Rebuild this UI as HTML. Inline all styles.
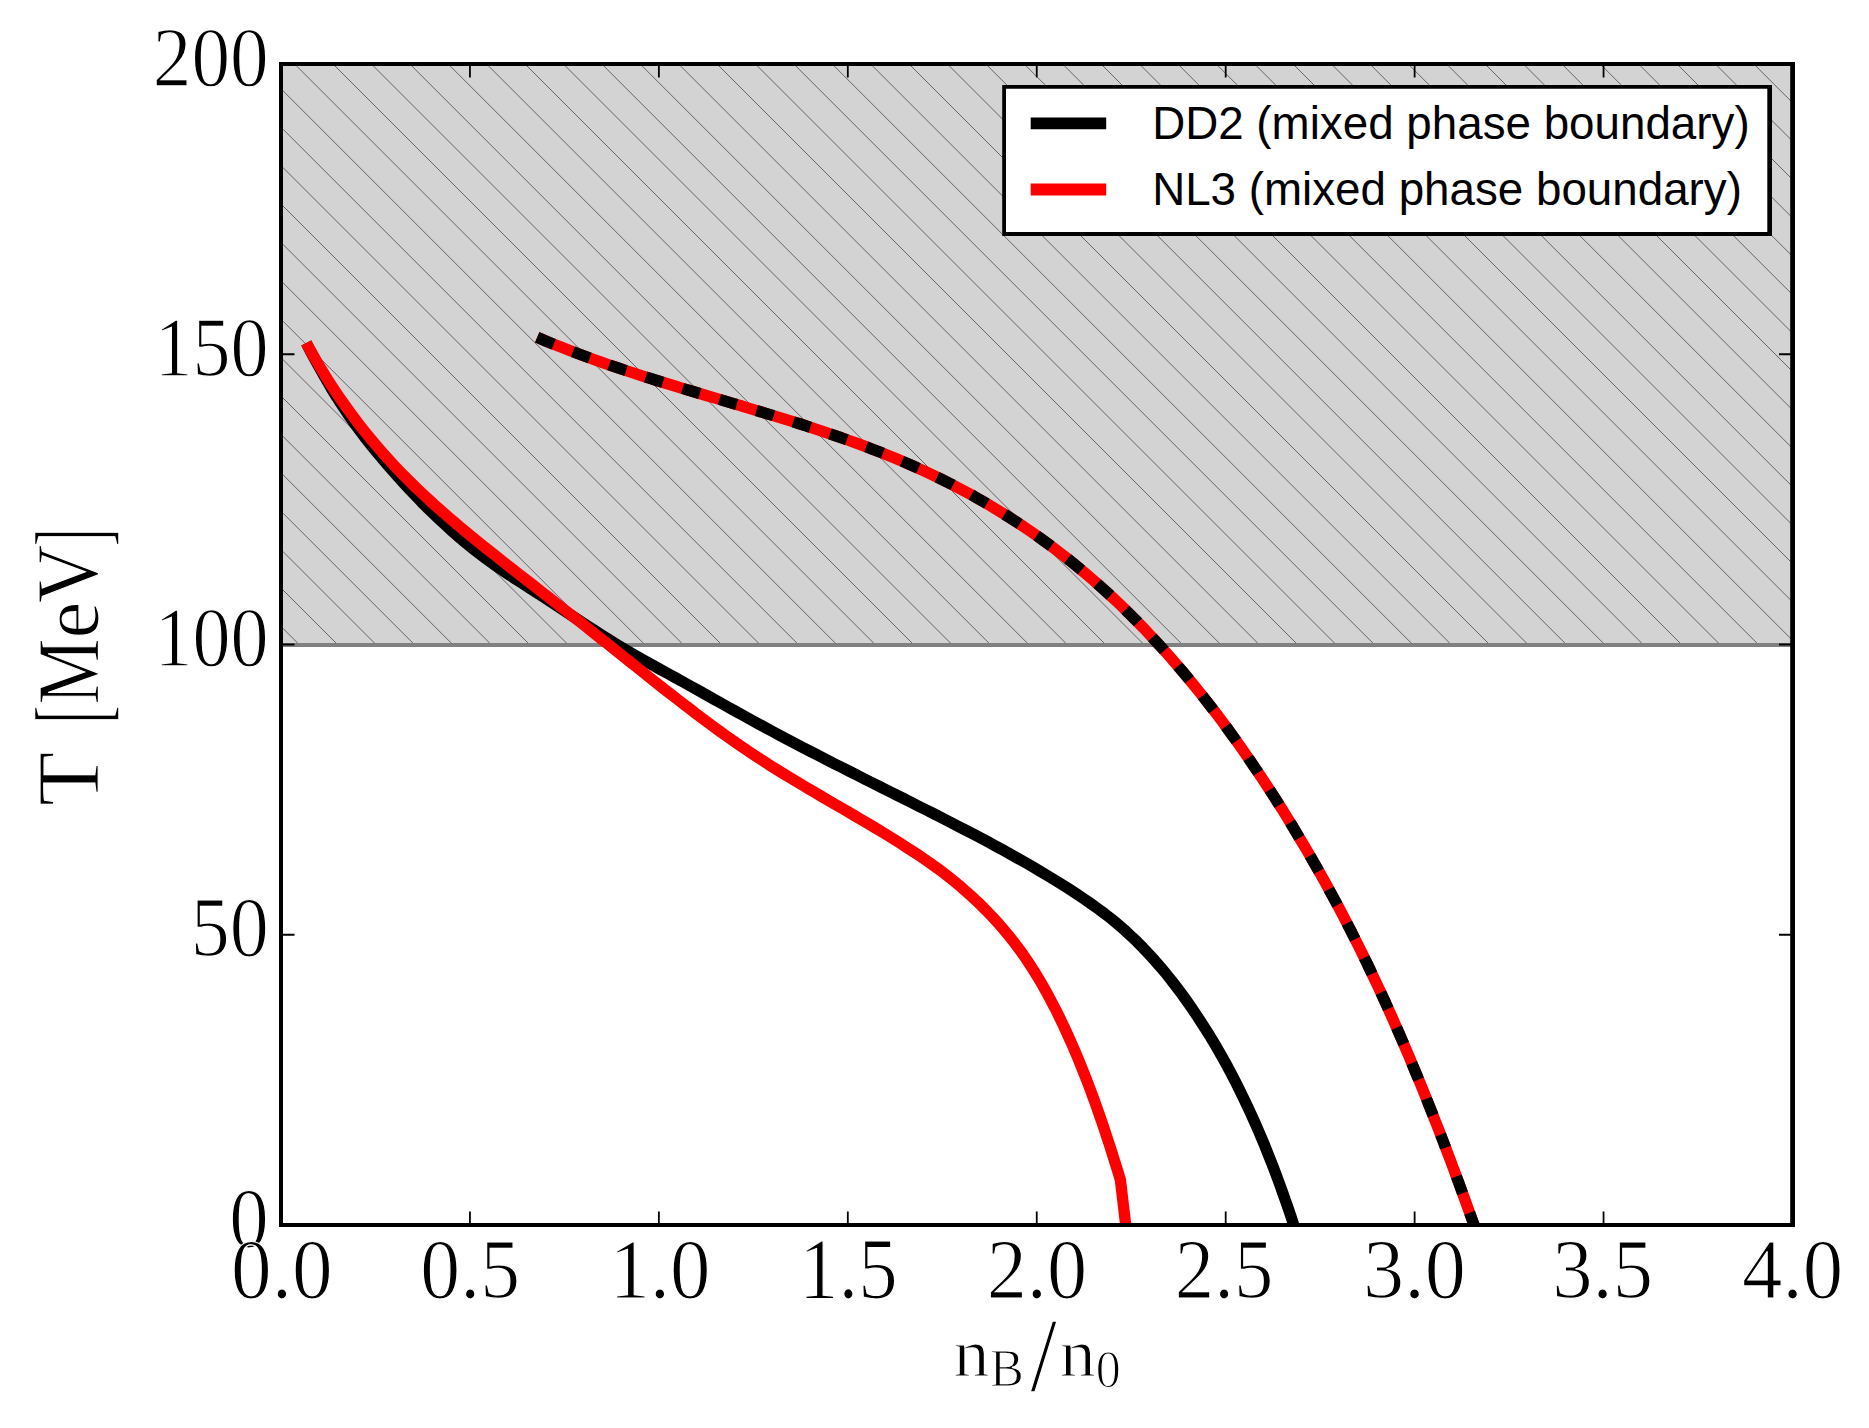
<!DOCTYPE html>
<html lang="en"><head><meta charset="utf-8"><title>Phase diagram</title>
<style>html,body{margin:0;padding:0;background:#fff}svg{display:block}.ser{font-family:"Liberation Serif",serif;fill:#000;stroke:#fff;stroke-width:1.2px;vector-effect:non-scaling-stroke}.san{font-family:"Liberation Sans",sans-serif;fill:#000}</style></head><body>
<svg width="1869" height="1428" viewBox="0 0 1869 1428">
<rect width="1869" height="1428" fill="#fff"/>
<defs><clipPath id="ax"><rect x="281.0" y="64.0" width="1511.5" height="1161.0"/></clipPath><clipPath id="reg"><rect x="281.0" y="64.0" width="1511.5" height="581.0"/></clipPath></defs>
<rect x="281.0" y="64.0" width="1511.5" height="581.0" fill="#d3d3d3"/>
<path clip-path="url(#reg)" d="M-363.20 59.00L227.80 650.00M-324.80 59.00L266.20 650.00M-286.40 59.00L304.60 650.00M-248.00 59.00L343.00 650.00M-209.60 59.00L381.40 650.00M-171.20 59.00L419.80 650.00M-132.80 59.00L458.20 650.00M-94.40 59.00L496.60 650.00M-56.00 59.00L535.00 650.00M-17.60 59.00L573.40 650.00M20.80 59.00L611.80 650.00M59.20 59.00L650.20 650.00M97.60 59.00L688.60 650.00M136.00 59.00L727.00 650.00M174.40 59.00L765.40 650.00M212.80 59.00L803.80 650.00M251.20 59.00L842.20 650.00M289.60 59.00L880.60 650.00M328.00 59.00L919.00 650.00M366.40 59.00L957.40 650.00M404.80 59.00L995.80 650.00M443.20 59.00L1034.20 650.00M481.60 59.00L1072.60 650.00M520.00 59.00L1111.00 650.00M558.40 59.00L1149.40 650.00M596.80 59.00L1187.80 650.00M635.20 59.00L1226.20 650.00M673.60 59.00L1264.60 650.00M712.00 59.00L1303.00 650.00M750.40 59.00L1341.40 650.00M788.80 59.00L1379.80 650.00M827.20 59.00L1418.20 650.00M865.60 59.00L1456.60 650.00M904.00 59.00L1495.00 650.00M942.40 59.00L1533.40 650.00M980.80 59.00L1571.80 650.00M1019.20 59.00L1610.20 650.00M1057.60 59.00L1648.60 650.00M1096.00 59.00L1687.00 650.00M1134.40 59.00L1725.40 650.00M1172.80 59.00L1763.80 650.00M1211.20 59.00L1802.20 650.00M1249.60 59.00L1840.60 650.00M1288.00 59.00L1879.00 650.00M1326.40 59.00L1917.40 650.00M1364.80 59.00L1955.80 650.00M1403.20 59.00L1994.20 650.00M1441.60 59.00L2032.60 650.00M1480.00 59.00L2071.00 650.00M1518.40 59.00L2109.40 650.00M1556.80 59.00L2147.80 650.00M1595.20 59.00L2186.20 650.00M1633.60 59.00L2224.60 650.00M1672.00 59.00L2263.00 650.00M1710.40 59.00L2301.40 650.00M1748.80 59.00L2339.80 650.00M1787.20 59.00L2378.20 650.00M1825.60 59.00L2416.60 650.00M1864.00 59.00L2455.00 650.00" stroke="#000" stroke-width="0.72" stroke-opacity="0.74" fill="none"/>
<line x1="281.0" x2="1792.5" y1="645.0" y2="645.0" stroke="#808080" stroke-width="3.8"/>
<g clip-path="url(#ax)" fill="none" stroke-linejoin="round">
<path d="M306.3 343.0 L310.2 350.7 L314.3 358.3 L318.4 365.8 L322.6 373.3 L326.9 380.8 L331.2 388.2 L335.7 395.5 L340.3 402.7 L345.1 409.9 L349.9 417.0 L354.9 424.0 L360.0 430.9 L365.2 437.7 L370.5 444.4 L375.9 451.1 L381.4 457.7 L387.0 464.3 L392.7 470.8 L398.4 477.2 L404.2 483.6 L410.0 489.9 L416.0 496.2 L421.9 502.4 L428.0 508.5 L434.2 514.5 L440.4 520.4 L446.7 526.2 L453.1 532.0 L459.6 537.6 L466.1 543.1 L472.8 548.5 L479.5 553.8 L486.4 559.0 L493.3 564.0 L500.4 568.9 L507.5 573.7 L514.7 578.4 L521.9 583.1 L529.1 587.8 L536.4 592.4 L543.6 597.1 L550.8 601.8 L558.0 606.5 L565.2 611.2 L572.4 616.0 L579.6 620.7 L586.8 625.4 L594.0 630.1 L601.2 634.7 L608.5 639.3 L615.7 643.8 L623.1 648.3 L630.5 652.6 L637.9 656.9 L645.4 661.2 L652.9 665.3 L660.4 669.5 L668.0 673.6 L675.5 677.8 L683.0 681.9 L690.6 686.1 L698.1 690.3 L705.6 694.5 L713.1 698.7 L720.6 702.9 L728.1 707.1 L735.6 711.3 L743.1 715.4 L750.7 719.6 L758.2 723.7 L765.7 727.8 L773.3 731.9 L780.9 736.0 L788.5 740.0 L796.1 744.0 L803.7 748.0 L811.4 751.9 L819.0 755.8 L826.6 759.8 L834.3 763.7 L842.0 767.5 L849.6 771.4 L857.3 775.3 L865.0 779.2 L872.6 783.0 L880.3 786.9 L888.0 790.7 L895.7 794.6 L903.4 798.4 L911.0 802.3 L918.7 806.2 L926.4 810.0 L934.1 813.9 L941.7 817.8 L949.4 821.7 L957.0 825.7 L964.6 829.6 L972.3 833.6 L979.9 837.6 L987.5 841.6 L995.0 845.7 L1002.6 849.8 L1010.1 854.0 L1017.6 858.2 L1025.1 862.4 L1032.5 866.7 L1039.9 871.1 L1047.3 875.5 L1054.7 880.0 L1062.0 884.5 L1069.2 889.1 L1076.4 893.8 L1083.6 898.6 L1090.7 903.5 L1097.7 908.5 L1104.6 913.6 L1111.4 918.9 L1118.0 924.4 L1124.5 930.0 L1130.8 935.8 L1137.0 941.7 L1143.0 947.8 L1148.9 954.1 L1154.7 960.4 L1160.4 966.9 L1165.9 973.5 L1171.3 980.2 L1176.5 987.0 L1181.7 993.9 L1186.7 1000.9 L1191.7 1008.0 L1196.5 1015.1 L1201.2 1022.3 L1205.8 1029.5 L1210.4 1036.8 L1214.8 1044.2 L1219.1 1051.6 L1223.3 1059.1 L1227.5 1066.6 L1231.5 1074.2 L1235.5 1081.8 L1239.3 1089.5 L1243.1 1097.2 L1246.8 1105.0 L1250.5 1112.8 L1254.0 1120.6 L1257.5 1128.5 L1260.9 1136.4 L1264.2 1144.3 L1267.4 1152.3 L1270.6 1160.3 L1273.7 1168.3 L1276.7 1176.3 L1279.7 1184.4 L1282.6 1192.5 L1285.5 1200.6 L1288.3 1208.7 L1291.1 1216.9 L1293.7 1225.0" stroke="#000" stroke-width="11.3"/>
<path d="M306.3 342.9 L309.9 349.6 L313.6 356.1 L317.4 362.7 L321.3 369.2 L325.2 375.6 L329.2 382.0 L333.3 388.3 L337.5 394.6 L341.8 400.8 L346.2 406.9 L350.6 413.0 L355.1 419.1 L359.7 425.1 L364.3 431.0 L369.1 436.8 L373.9 442.6 L378.8 448.4 L383.7 454.0 L388.8 459.6 L393.9 465.2 L399.0 470.6 L404.3 476.0 L409.6 481.3 L415.0 486.6 L420.4 491.8 L425.9 496.9 L431.4 502.0 L437.0 507.1 L442.7 512.0 L448.3 517.0 L454.1 521.9 L459.8 526.7 L465.6 531.6 L471.4 536.3 L477.3 541.1 L483.1 545.8 L489.0 550.5 L494.9 555.2 L500.8 559.9 L506.8 564.6 L512.7 569.2 L518.6 573.9 L524.5 578.5 L530.5 583.1 L536.4 587.7 L542.3 592.4 L548.3 597.0 L554.2 601.6 L560.1 606.3 L566.0 610.9 L571.9 615.6 L577.9 620.2 L583.8 624.9 L589.6 629.6 L595.5 634.3 L601.4 639.0 L607.3 643.7 L613.2 648.4 L619.1 653.1 L625.0 657.8 L630.8 662.5 L636.7 667.2 L642.6 671.9 L648.5 676.6 L654.4 681.3 L660.3 686.0 L666.3 690.7 L672.2 695.3 L678.1 699.9 L684.1 704.5 L690.1 709.1 L696.1 713.7 L702.1 718.2 L708.2 722.7 L714.2 727.2 L720.3 731.6 L726.4 736.0 L732.6 740.3 L738.7 744.6 L745.0 748.9 L751.2 753.1 L757.5 757.2 L763.8 761.3 L770.1 765.4 L776.5 769.4 L782.9 773.4 L789.3 777.3 L795.8 781.2 L802.2 785.0 L808.7 788.9 L815.2 792.7 L821.7 796.5 L828.2 800.3 L834.7 804.1 L841.3 807.9 L847.8 811.7 L854.3 815.5 L860.8 819.3 L867.3 823.2 L873.8 827.0 L880.3 830.9 L886.7 834.8 L893.1 838.8 L899.5 842.8 L905.9 846.9 L912.2 851.0 L918.5 855.1 L924.8 859.4 L930.9 863.7 L937.1 868.1 L943.1 872.6 L949.1 877.2 L954.9 881.9 L960.7 886.7 L966.4 891.7 L972.0 896.7 L977.5 901.8 L982.9 907.1 L988.1 912.4 L993.3 917.9 L998.4 923.4 L1003.3 929.1 L1008.1 934.8 L1012.8 940.7 L1017.3 946.7 L1021.8 952.7 L1026.1 958.9 L1030.2 965.1 L1034.3 971.5 L1038.2 977.9 L1042.1 984.4 L1045.8 991.0 L1049.4 997.6 L1052.9 1004.3 L1056.4 1011.0 L1059.7 1017.8 L1063.0 1024.6 L1066.2 1031.5 L1069.3 1038.4 L1072.4 1045.3 L1075.4 1052.2 L1078.3 1059.2 L1081.1 1066.2 L1083.9 1073.2 L1086.7 1080.2 L1089.4 1087.2 L1092.0 1094.3 L1094.6 1101.3 L1097.1 1108.4 L1099.6 1115.5 L1102.1 1122.6 L1104.5 1129.8 L1106.8 1136.9 L1109.2 1144.0 L1111.5 1151.2 L1113.7 1158.4 L1116.0 1165.5 L1118.2 1172.7 L1120.4 1179.9 L1125.7 1225.0" stroke="#f00" stroke-width="11.3"/>
<path d="M537.2 337.3 L545.1 340.7 L553.0 343.9 L561.0 347.1 L569.0 350.3 L577.0 353.3 L585.0 356.3 L593.1 359.3 L601.2 362.1 L609.3 365.0 L617.4 367.7 L625.6 370.5 L633.8 373.1 L642.0 375.8 L650.2 378.4 L658.4 381.0 L666.6 383.5 L674.9 386.0 L683.1 388.6 L691.4 391.0 L699.6 393.5 L707.9 396.0 L716.2 398.4 L724.4 400.9 L732.7 403.4 L741.0 405.8 L749.3 408.3 L757.5 410.8 L765.8 413.3 L774.0 415.8 L782.3 418.4 L790.5 420.9 L798.7 423.5 L806.9 426.2 L815.1 428.8 L823.3 431.6 L831.4 434.3 L839.5 437.1 L847.6 440.0 L855.7 442.9 L863.8 445.9 L871.8 449.0 L879.8 452.1 L887.8 455.3 L895.8 458.5 L903.7 461.9 L911.5 465.3 L919.4 468.8 L927.2 472.4 L935.0 476.1 L942.7 479.8 L950.4 483.7 L958.0 487.7 L965.6 491.7 L973.2 495.8 L980.7 500.1 L988.1 504.4 L995.5 508.8 L1002.9 513.3 L1010.2 517.9 L1017.4 522.6 L1024.6 527.3 L1031.7 532.2 L1038.8 537.1 L1045.7 542.1 L1052.7 547.2 L1059.5 552.4 L1066.3 557.7 L1073.1 563.1 L1079.7 568.6 L1086.3 574.1 L1092.8 579.7 L1099.3 585.4 L1105.7 591.2 L1112.0 597.0 L1118.3 602.9 L1124.5 608.9 L1130.6 615.0 L1136.7 621.1 L1142.7 627.2 L1148.6 633.5 L1154.5 639.8 L1160.3 646.1 L1166.1 652.5 L1171.8 659.0 L1177.4 665.5 L1183.0 672.0 L1188.5 678.6 L1194.0 685.3 L1199.4 692.0 L1204.7 698.7 L1210.0 705.5 L1215.3 712.3 L1220.5 719.2 L1225.6 726.1 L1230.7 733.1 L1235.7 740.0 L1240.7 747.0 L1245.6 754.1 L1250.5 761.2 L1255.3 768.3 L1260.1 775.4 L1264.9 782.6 L1269.6 789.8 L1274.3 797.0 L1278.9 804.3 L1283.5 811.6 L1288.0 818.9 L1292.5 826.3 L1296.9 833.6 L1301.3 841.0 L1305.7 848.4 L1310.1 855.9 L1314.3 863.3 L1318.6 870.8 L1322.8 878.3 L1327.0 885.8 L1331.1 893.4 L1335.2 900.9 L1339.3 908.5 L1343.3 916.1 L1347.2 923.8 L1351.2 931.4 L1355.0 939.1 L1358.9 946.8 L1362.7 954.5 L1366.5 962.2 L1370.2 970.0 L1373.9 977.8 L1377.6 985.6 L1381.2 993.4 L1384.8 1001.2 L1388.3 1009.0 L1391.9 1016.9 L1395.3 1024.7 L1398.8 1032.6 L1402.2 1040.5 L1405.6 1048.4 L1409.0 1056.3 L1412.3 1064.3 L1415.6 1072.2 L1418.9 1080.2 L1422.2 1088.2 L1425.4 1096.1 L1428.6 1104.1 L1431.8 1112.1 L1434.9 1120.2 L1438.1 1128.2 L1441.2 1136.2 L1444.3 1144.2 L1447.3 1152.3 L1450.4 1160.3 L1453.4 1168.4 L1456.4 1176.5 L1459.4 1184.5 L1462.3 1192.6 L1465.3 1200.7 L1468.2 1208.8 L1471.1 1216.9 L1474.0 1225.0" stroke="#f00" stroke-width="11.3"/>
<path d="M537.2 337.3 L545.1 340.7 L553.0 343.9 L561.0 347.1 L569.0 350.3 L577.0 353.3 L585.0 356.3 L593.1 359.3 L601.2 362.1 L609.3 365.0 L617.4 367.7 L625.6 370.5 L633.8 373.1 L642.0 375.8 L650.2 378.4 L658.4 381.0 L666.6 383.5 L674.9 386.0 L683.1 388.6 L691.4 391.0 L699.6 393.5 L707.9 396.0 L716.2 398.4 L724.4 400.9 L732.7 403.4 L741.0 405.8 L749.3 408.3 L757.5 410.8 L765.8 413.3 L774.0 415.8 L782.3 418.4 L790.5 420.9 L798.7 423.5 L806.9 426.2 L815.1 428.8 L823.3 431.6 L831.4 434.3 L839.5 437.1 L847.6 440.0 L855.7 442.9 L863.8 445.9 L871.8 449.0 L879.8 452.1 L887.8 455.3 L895.8 458.5 L903.7 461.9 L911.5 465.3 L919.4 468.8 L927.2 472.4 L935.0 476.1 L942.7 479.8 L950.4 483.7 L958.0 487.7 L965.6 491.7 L973.2 495.8 L980.7 500.1 L988.1 504.4 L995.5 508.8 L1002.9 513.3 L1010.2 517.9 L1017.4 522.6 L1024.6 527.3 L1031.7 532.2 L1038.8 537.1 L1045.7 542.1 L1052.7 547.2 L1059.5 552.4 L1066.3 557.7 L1073.1 563.1 L1079.7 568.6 L1086.3 574.1 L1092.8 579.7 L1099.3 585.4 L1105.7 591.2 L1112.0 597.0 L1118.3 602.9 L1124.5 608.9 L1130.6 615.0 L1136.7 621.1 L1142.7 627.2 L1148.6 633.5 L1154.5 639.8 L1160.3 646.1 L1166.1 652.5 L1171.8 659.0 L1177.4 665.5 L1183.0 672.0 L1188.5 678.6 L1194.0 685.3 L1199.4 692.0 L1204.7 698.7 L1210.0 705.5 L1215.3 712.3 L1220.5 719.2 L1225.6 726.1 L1230.7 733.1 L1235.7 740.0 L1240.7 747.0 L1245.6 754.1 L1250.5 761.2 L1255.3 768.3 L1260.1 775.4 L1264.9 782.6 L1269.6 789.8 L1274.3 797.0 L1278.9 804.3 L1283.5 811.6 L1288.0 818.9 L1292.5 826.3 L1296.9 833.6 L1301.3 841.0 L1305.7 848.4 L1310.1 855.9 L1314.3 863.3 L1318.6 870.8 L1322.8 878.3 L1327.0 885.8 L1331.1 893.4 L1335.2 900.9 L1339.3 908.5 L1343.3 916.1 L1347.2 923.8 L1351.2 931.4 L1355.0 939.1 L1358.9 946.8 L1362.7 954.5 L1366.5 962.2 L1370.2 970.0 L1373.9 977.8 L1377.6 985.6 L1381.2 993.4 L1384.8 1001.2 L1388.3 1009.0 L1391.9 1016.9 L1395.3 1024.7 L1398.8 1032.6 L1402.2 1040.5 L1405.6 1048.4 L1409.0 1056.3 L1412.3 1064.3 L1415.6 1072.2 L1418.9 1080.2 L1422.2 1088.2 L1425.4 1096.1 L1428.6 1104.1 L1431.8 1112.1 L1434.9 1120.2 L1438.1 1128.2 L1441.2 1136.2 L1444.3 1144.2 L1445.5 1147.6" stroke="#000" stroke-width="11.3" stroke-dasharray="17.9 20.65"/>
<path d="M1456.4 1176.6 L1459.4 1184.5 L1462.3 1192.6 L1465.3 1200.7 L1468.2 1208.8 L1471.1 1216.9 L1474.0 1225.0" stroke="#000" stroke-width="11.3" stroke-dasharray="17.8 20.7"/>
</g>
<path d="M279 62H1795V1227H279ZM283 66V1223H1790.2V66Z" fill="#000" fill-rule="evenodd"/>
<path d="M469.94 1225.0v-13.5M469.94 64.0v13.5M658.88 1225.0v-13.5M658.88 64.0v13.5M847.81 1225.0v-13.5M847.81 64.0v13.5M1036.75 1225.0v-13.5M1036.75 64.0v13.5M1225.69 1225.0v-13.5M1225.69 64.0v13.5M1414.62 1225.0v-13.5M1414.62 64.0v13.5M1603.56 1225.0v-13.5M1603.56 64.0v13.5M281.0 934.75h13.5M1792.5 934.75h-13.5M281.0 644.50h13.5M1792.5 644.50h-13.5M281.0 354.25h13.5M1792.5 354.25h-13.5" stroke="#000" stroke-width="1.8" fill="none"/>
<text class="ser" transform="translate(152.81 85.67) scale(0.9110 1)" font-size="84.77">200</text>
<text class="ser" transform="translate(154.62 375.92) scale(0.8964 1)" font-size="84.77">150</text>
<text class="ser" transform="translate(154.62 666.17) scale(0.8964 1)" font-size="84.77">100</text>
<text class="ser" transform="translate(190.67 956.42) scale(0.9202 1)" font-size="84.77">50</text>
<text class="ser" transform="translate(229.30 1246.67) scale(0.9297 1)" font-size="84.77">0</text>
<text class="ser" transform="translate(231.10 1297.89) scale(0.9550 1)" font-size="85.10">0.0</text>
<text class="ser" transform="translate(420.36 1297.89) scale(0.9368 1)" font-size="85.10">0.5</text>
<text class="ser" transform="translate(609.39 1297.89) scale(0.9503 1)" font-size="85.10">1.0</text>
<text class="ser" transform="translate(799.07 1297.89) scale(0.9204 1)" font-size="85.72">1.5</text>
<text class="ser" transform="translate(986.67 1297.89) scale(0.9447 1)" font-size="85.10">2.0</text>
<text class="ser" transform="translate(1174.84 1297.89) scale(0.9224 1)" font-size="85.47">2.5</text>
<text class="ser" transform="translate(1363.06 1297.89) scale(0.9671 1)" font-size="85.10">3.0</text>
<text class="ser" transform="translate(1552.14 1297.89) scale(0.9446 1)" font-size="85.47">3.5</text>
<text class="ser" transform="translate(1742.12 1297.89) scale(0.9500 1)" font-size="85.10">4.0</text>
<g transform="translate(97 0) rotate(-90)">
<text class="ser" transform="translate(-806.11 0.50) scale(1.0032 1)" font-size="88.58">T </text>
<text class="ser" transform="translate(-723.57 7.99) scale(0.5386 1)" font-size="101.74">[</text>
<text class="ser" transform="translate(-704.75 0.50) scale(0.8407 1)" font-size="88.88">M</text>
<text class="ser" transform="translate(-638.67 0.70) scale(1.0276 1)" font-size="81.50">e</text>
<text class="ser" transform="translate(-603.21 0.26) scale(0.9218 1)" font-size="88.22">V</text>
<text class="ser" transform="translate(-546.48 7.99) scale(0.5386 1)" font-size="101.74">]</text>
</g>
<text class="ser" transform="translate(953.45 1375.60) scale(1.0517 1)" font-size="68.55">n</text>
<text class="ser" transform="translate(989.82 1386.15) scale(0.9855 1)" font-size="52.00">B</text>
<text class="ser" transform="translate(1030.30 1391.27) scale(0.9119 1)" font-size="105.39">/</text>
<text class="ser" transform="translate(1059.65 1375.60) scale(1.0485 1)" font-size="68.55">n</text>
<text class="ser" transform="translate(1095.79 1386.99) scale(0.9617 1)" font-size="52.02">0</text>
<path d="M1002.2 85H1772V236H1002.2Z" fill="#000"/><path d="M1006 88.8H1767.3V232.1H1006Z" fill="#fff"/>
<line x1="1030.7" x2="1106.2" y1="123.4" y2="123.4" stroke="#000" stroke-width="11.8"/>
<line x1="1030.7" x2="1106.2" y1="189.5" y2="189.5" stroke="#f00" stroke-width="11.8"/>
<text class="san" transform="translate(1152.15 138.89) scale(0.9989 1)" font-size="45.81">DD2 (mixed phase boundary)</text>
<text class="san" transform="translate(1152.15 205.49) scale(0.9985 1)" font-size="45.81">NL3 (mixed phase boundary)</text>
</svg></body></html>
